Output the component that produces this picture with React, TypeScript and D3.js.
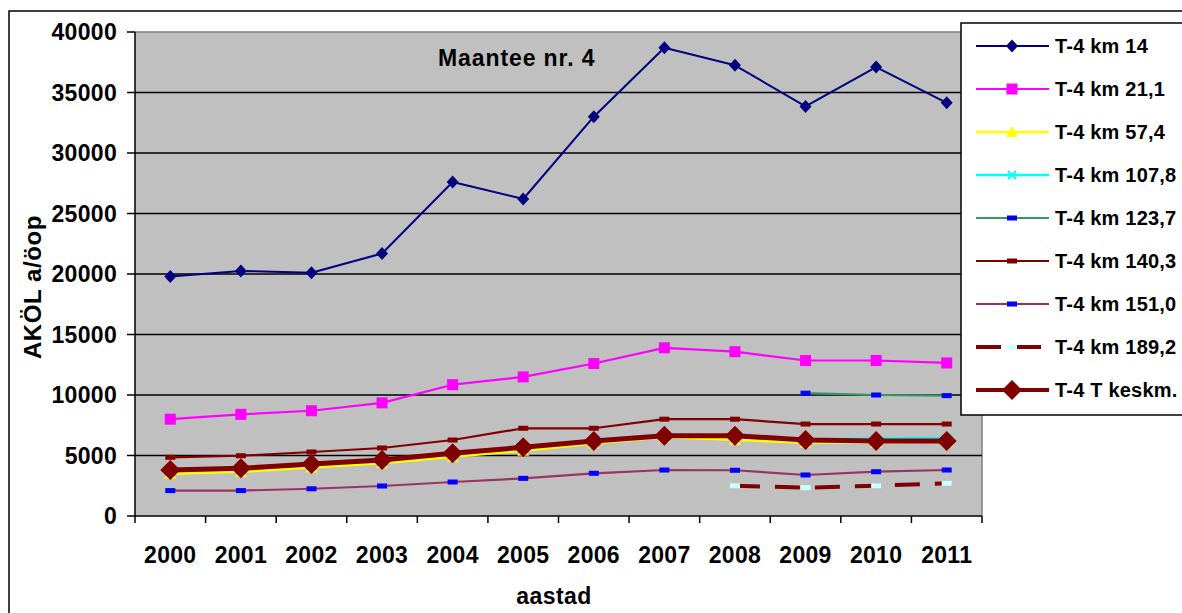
import React from 'react';
import * as d3 from 'd3';

const years = ['2000','2001','2002','2003','2004','2005','2006','2007','2008','2009','2010','2011'];
const yTicks = [0, 5000, 10000, 15000, 20000, 25000, 30000, 35000, 40000];

const km14 = [19800, 20250, 20100, 21700, 27600, 26200, 33000, 38700, 37250, 33850, 37100, 34150];
const km21 = [8000, 8400, 8700, 9350, 10850, 11500, 12600, 13900, 13580, 12850, 12850, 12650];
const km57 = [3500, 3650, 4000, 4350, 4900, 5400, 6000, 6500, 6300, 6050, 6050, 6150];
const km107 = [3750, 3900, 4250, 4600, 5150, 5700, 6250, 6650, 6650, 6300, 6400, 6450];
const km123 = [null, null, null, null, null, null, null, null, null, 10150, 10000, 9950];
const km140 = [4850, 4980, 5290, 5620, 6280, 7250, 7250, 8000, 8000, 7600, 7600, 7600];
const km151 = [2100, 2100, 2250, 2480, 2810, 3110, 3530, 3800, 3780, 3390, 3660, 3800];
const km189 = [null, null, null, null, null, null, null, null, 2500, 2340, 2500, 2700];
const keskm = [3800, 3940, 4300, 4630, 5180, 5680, 6200, 6640, 6640, 6280, 6200, 6200];

type Marker = 'diamond' | 'square' | 'triangle' | 'x' | 'dash' | 'bigdiamond';
interface S { name: string; values: (number | null)[]; color: string; width: number; dash?: string; marker: Marker; mColor: string; }

const series: S[] = [
  { name: 'T-4 km 14', values: km14, color: '#000080', width: 2, marker: 'diamond', mColor: '#000080' },
  { name: 'T-4 km 21,1', values: km21, color: '#FF00FF', width: 2.2, marker: 'square', mColor: '#FF00FF' },
  { name: 'T-4 km 57,4', values: km57, color: '#FFFF00', width: 2.5, marker: 'triangle', mColor: '#FFFF00' },
  { name: 'T-4 km 107,8', values: km107, color: '#00FFFF', width: 2.5, marker: 'x', mColor: '#00FFFF' },
  { name: 'T-4 km 123,7', values: km123, color: '#339966', width: 2.2, marker: 'dash', mColor: '#0000FF' },
  { name: 'T-4 km 140,3', values: km140, color: '#800000', width: 2.2, marker: 'dash', mColor: '#800000' },
  { name: 'T-4 km 151,0', values: km151, color: '#993366', width: 2.2, marker: 'dash', mColor: '#0000FF' },
  { name: 'T-4 km 189,2', values: km189, color: '#800000', width: 4, dash: '25 15', marker: 'dash', mColor: '#CCFFFF' },
  { name: 'T-4 T keskm.', values: keskm, color: '#800000', width: 5, marker: 'bigdiamond', mColor: '#800000' },
];

const FONT = '"Liberation Sans", Arial, sans-serif';

function MarkerShape({ m, x, y, c }: { m: Marker; x: number; y: number; c: string }) {
  switch (m) {
    case 'diamond':
      return <path d={`M${x},${y - 6.5}L${x + 6},${y}L${x},${y + 6.5}L${x - 6},${y}Z`} fill={c} />;
    case 'bigdiamond':
      return <path d={`M${x},${y - 10}L${x + 10},${y}L${x},${y + 10}L${x - 10},${y}Z`} fill={c} />;
    case 'square':
      return <rect x={x - 5.5} y={y - 5.5} width={11} height={11} fill={c} />;
    case 'triangle':
      return <path d={`M${x},${y - 6}L${x + 6},${y + 5}L${x - 6},${y + 5}Z`} fill={c} />;
    case 'x':
      return <path d={`M${x - 4},${y - 4}L${x + 4},${y + 4}M${x + 4},${y - 4}L${x - 4},${y + 4}`} stroke={c} strokeWidth={2} />;
    case 'dash':
      return <rect x={x - 5} y={y - 2.5} width={10} height={5} fill={c} />;
  }
}

export default function App() {
  const left = 135, right = 982, top = 32, bottom = 516;
  const x = d3.scaleBand<string>().domain(years).range([left, right]).padding(0);
  const y = d3.scaleLinear().domain([0, 40000]).range([bottom, top]);
  const cx = (i: number) => (x(years[i]) as number) + x.bandwidth() / 2;
  const line = d3.line<number | null>()
    .defined(d => d !== null)
    .x((_, i) => cx(i))
    .y(d => y(d as number));

  const legendX = 961, legendTop = 23, legendBottom = 415;
  const rowY = (i: number) => 46 + i * 43;

  return (
    <svg width={1182} height={613} style={{ position: 'absolute', left: 0, top: 0, background: '#fff' }} fontFamily={FONT}>
      <rect x={0} y={0} width={1182} height={613} fill="#fff" />
      <rect x={9} y={11} width={1200} height={650} fill="none" stroke="#000" strokeWidth={1.5} />
      <rect x={left} y={top} width={right - left} height={bottom - top} fill="#C0C0C0" />
      <line x1={left} x2={right} y1={top} y2={top} stroke="#808080" strokeWidth={1.5} />
      <line x1={right} x2={right} y1={top} y2={bottom} stroke="#808080" strokeWidth={1.5} />
      {yTicks.filter(t => t > 0 && t < 40000).map(t => (
        <line key={t} x1={left} x2={right} y1={y(t)} y2={y(t)} stroke="#000" strokeWidth={1.5} />
      ))}
      <line x1={left} x2={left} y1={top} y2={bottom + 7} stroke="#000" strokeWidth={1.5} />
      {yTicks.map(t => (
        <g key={t}>
          <line x1={left - 8} x2={left} y1={y(t)} y2={y(t)} stroke="#000" strokeWidth={1.5} />
          <text x={117} y={y(t)} dy="0.36em" textAnchor="end" fontSize={23} fontWeight="bold" letterSpacing={0.3}>{t}</text>
        </g>
      ))}
      <line x1={left} x2={right} y1={bottom} y2={bottom} stroke="#000" strokeWidth={1.5} />
      {years.map((yr, i) => (
        <g key={yr}>
          <line x1={(x(yr) as number) + x.bandwidth()} x2={(x(yr) as number) + x.bandwidth()} y1={bottom} y2={bottom + 7} stroke="#000" strokeWidth={1.5} />
          <text x={cx(i)} y={563} textAnchor="middle" fontSize={23} fontWeight="bold" letterSpacing={0.3}>{yr}</text>
        </g>
      ))}
      <text x={554} y={604} textAnchor="middle" fontSize={23} fontWeight="bold" letterSpacing={0.4}>aastad</text>
      <text transform="translate(41,287) rotate(-90)" textAnchor="middle" fontSize={24} fontWeight="bold" letterSpacing={0.6}>AKÖL a/öop</text>
      <text x={438} y={66} fontSize={23} fontWeight="bold" letterSpacing={0.9}>Maantee nr. 4</text>

      {series.map(s => (
        <g key={s.name}>
          <path d={line(s.values) || ''} fill="none" stroke={s.color} strokeWidth={s.width} strokeDasharray={s.dash} strokeLinejoin="round" />
          {s.values.map((v, i) => v === null ? null : (
            <MarkerShape key={i} m={s.marker} x={cx(i)} y={y(v)} c={s.mColor} />
          ))}
        </g>
      ))}

      <rect x={legendX} y={legendTop} width={260} height={legendBottom - legendTop} fill="#fff" stroke="#000" strokeWidth={1.5} />
      {series.map((s, i) => (
        <g key={s.name}>
          <line x1={976} x2={1049} y1={rowY(i)} y2={rowY(i)} stroke={s.color} strokeWidth={Math.min(s.width, 4)} strokeDasharray={s.dash} />
          <MarkerShape m={s.marker} x={1012} y={rowY(i)} c={s.mColor} />
          <text x={1055} y={rowY(i)} dy="0.36em" fontSize={20} fontWeight="bold" letterSpacing={0.2}>{s.name}</text>
        </g>
      ))}
    </svg>
  );
}
